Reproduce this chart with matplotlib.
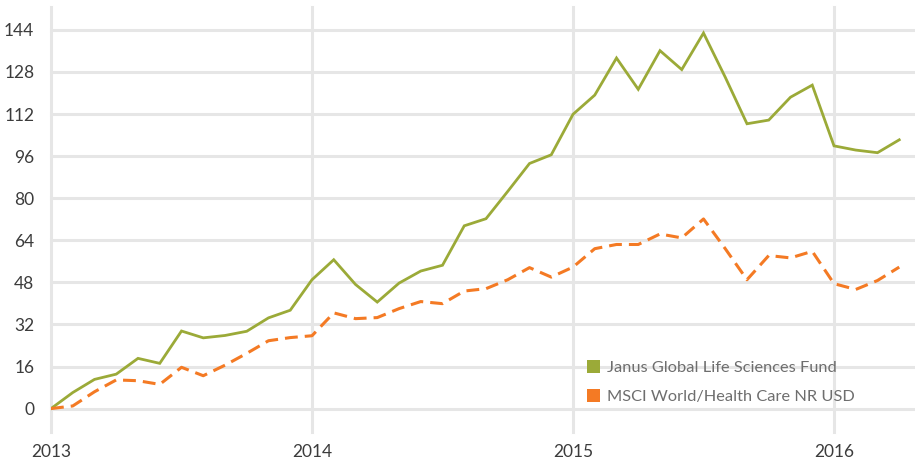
import matplotlib
matplotlib.use("Agg")
import matplotlib.pyplot as plt
from matplotlib.patches import Patch
import numpy as np

plt.rcParams['font.family'] = ['Lato', 'DejaVu Sans']

# Monthly points, Jan 2013 .. Apr 2016
start_year = 2013
fund = [0, 6.1, 11.1, 13.1, 19.1, 17.2, 29.5, 26.9, 27.8, 29.4, 34.5, 37.4,
        49.0, 56.6, 47.2, 40.5, 47.7, 52.3, 54.5, 69.5, 72.2, 82.6, 93.2, 96.5,
        111.9, 119.2, 133.3, 121.4, 136.1, 128.9, 142.8, 126.0, 108.3, 109.7, 118.4, 123.0,
        99.9, 98.3, 97.3, 102.2]
index = [0, 1.0, 6.4, 10.9, 10.6, 9.2, 15.7, 12.5, 16.5, 21.0, 25.8, 27.0,
         27.7, 36.4, 34.2, 34.6, 38.0, 40.7, 39.9, 44.7, 45.6, 49.0, 53.6, 50.0,
         53.8, 60.8, 62.4, 62.4, 66.4, 64.9, 72.1, 60.8, 49.0, 58.2, 57.3, 59.8,
         47.5, 45.3, 48.7, 53.8]
series_names = ["Janus Global Life Sciences Fund", "MSCI World/Health Care NR USD"]
year_ticks = [2013, 2014, 2015, 2016]
y_ticks = [0, 16, 32, 48, 64, 80, 96, 112, 128, 144]

green = "#9BAA38"
orange = "#F47A24"
grid_c = "#E6E6E6"

fig = plt.figure(figsize=(9.15, 4.61), dpi=100)
ax = fig.add_axes([51/915, 1 - 432/461, 1 - 51/915, (432 - 7)/461])

x = start_year + np.arange(len(fund)) / 12.0
ax.plot(x, fund, color=green, lw=2.0, solid_joinstyle='miter', zorder=3)
ax.plot(x, index, color=orange, lw=2.2, dashes=(4.2, 2.3), zorder=3)

ax.set_xlim(2013, 2013 + 864/261)
ax.set_ylim(-8.9, 152.7)
ax.set_xticks(year_ticks)
ax.set_xticklabels([str(y) for y in year_ticks])
ax.set_yticks(y_ticks)
ax.set_yticklabels([str(v) for v in y_ticks])
ax.grid(True, color=grid_c, lw=2.2, zorder=0)
ax.set_axisbelow(True)
for s in ax.spines.values():
    s.set_visible(False)
ax.tick_params(axis='both', length=0, labelsize=12.5, colors="#3C3C3C")
ax.tick_params(axis='y', pad=12)
ax.tick_params(axis='x', pad=8.5)
for gl in ax.get_xgridlines() + ax.get_ygridlines():
    gl.set_clip_on(False)

handles = [Patch(facecolor=green, edgecolor='none'), Patch(facecolor=orange, edgecolor='none')]
leg = fig.legend(handles, series_names, loc='upper left',
                 bbox_to_anchor=(579/915, 1 - 352/461), frameon=False,
                 borderpad=0, handlelength=0.8, handleheight=0.8,
                 handletextpad=0.4, labelspacing=0.85, fontsize=11.8)
for t in leg.get_texts():
    t.set_color("#6E6E6E")

fig.savefig("out.png", dpi=100)
